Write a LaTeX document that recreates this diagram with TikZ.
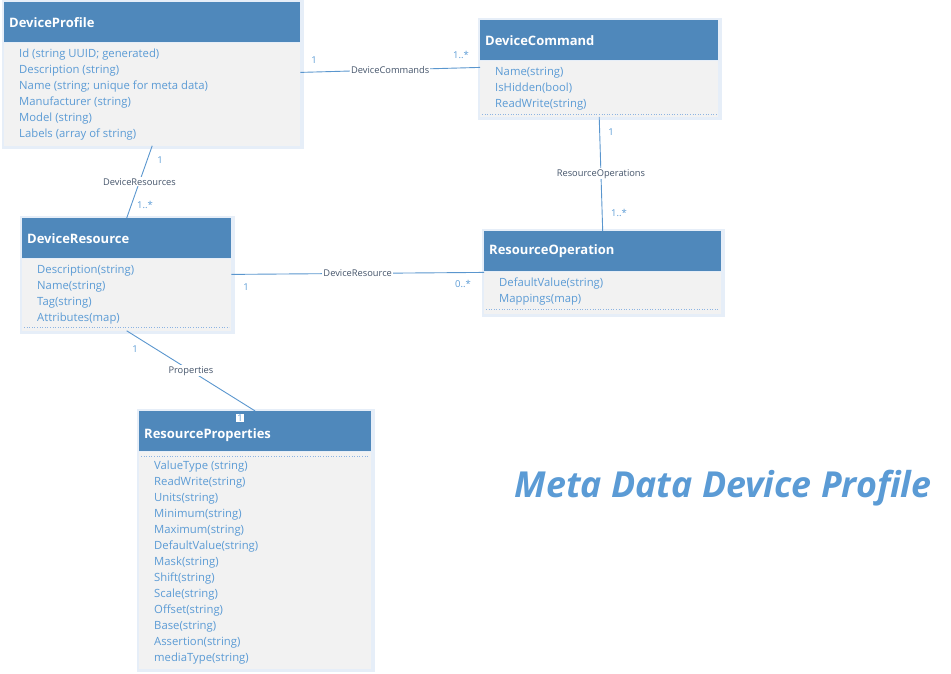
\documentclass[tikz,border=0pt]{standalone}
\usepackage{fontspec}
\setmainfont{Open Sans}
\usetikzlibrary{calc}
\definecolor{hdrblue}{HTML}{4F88BB}
\definecolor{bodygray}{HTML}{F2F2F2}
\definecolor{attrblue}{HTML}{5B9BD5}
\definecolor{lineblue}{HTML}{5A96CE}
\definecolor{labelcol}{HTML}{44546A}
\definecolor{shadowblue}{HTML}{E6EEF8}
\definecolor{dotblue}{HTML}{8DB4E2}
\begin{document}
\begin{tikzpicture}[x=1pt,y=-1pt,
  hdr/.style={fill=hdrblue, text=white, font=\fontsize{13}{15}\selectfont\bfseries, anchor=north west,
    minimum height=40pt, inner xsep=5pt, inner ysep=0pt, align=left},
  bodyb/.style={fill=bodygray, anchor=north west, inner sep=0pt},
  attr/.style={text=attrblue, font=\fontsize{11.3}{16}\selectfont, align=left, anchor=north west, inner sep=0pt},
  conn/.style={draw=lineblue, line width=0.9pt},
  clabel/.style={fill=white, text=labelcol, font=\fontsize{9.3}{10}\selectfont, inner sep=1pt},
  mult/.style={text=attrblue, font=\fontsize{9.5}{10}\selectfont, inner sep=0pt},
  dotline/.style={draw=dotblue, dotted, line width=0.6pt},
  shadowbox/.style={fill=shadowblue}
]
\useasboundingbox (0,0) rectangle (951,673);

% shadows
\fill[shadowbox] (2,0) rectangle (304,149);
\fill[shadowbox] (478,18) rectangle (722,120);
\fill[shadowbox] (20,216) rectangle (235,334);
\fill[shadowbox] (482,229) rectangle (725,317);
\fill[shadowbox] (137,409) rectangle (375,672);

% DeviceProfile
\node[hdr, text width=286pt] (dph) at (4,2) {DeviceProfile};
\node[bodyb, minimum width=296pt, minimum height=103pt] (dpb) at (dph.south west) {};
\node[attr] (dpa) at ($(dpb.north west)+(15,6.5)$) {Id (string UUID; generated)\\Description (string)\\Name (string; unique for meta data)\\Manufacturer (string)\\Model (string)\\Labels (array of string)};

% DeviceCommand
\node[hdr, text width=228pt] (dch) at (480,20) {DeviceCommand};
\node[bodyb, minimum width=238pt, minimum height=56pt] (dcb) at (dch.south west) {};
\node[attr] (dca) at ($(dcb.north west)+(15,6.5)$) {Name(string)\\IsHidden(bool)\\ReadWrite(string)};
\draw[dotline] ($(dcb.south west)+(2,-3)$) -- ($(dcb.south east)+(-2,-3)$);

% DeviceResource
\node[hdr, text width=199pt] (drh) at (22,218) {DeviceResource};
\node[bodyb, minimum width=209pt, minimum height=72pt] (drb) at (drh.south west) {};
\node[attr] (dra) at ($(drb.north west)+(15,6.5)$) {Description(string)\\Name(string)\\Tag(string)\\Attributes(map)};
\draw[dotline] ($(drb.south west)+(2,-4)$) -- ($(drb.south east)+(-2,-4)$);

% ResourceOperation
\node[hdr, text width=227pt] (roh) at (484,231) {ResourceOperation};
\node[bodyb, minimum width=237pt, minimum height=42pt] (rob) at (roh.south west) {};
\node[attr] (roa) at ($(rob.north west)+(15,6.5)$) {DefaultValue(string)\\Mappings(map)};
\draw[dotline] ($(rob.south west)+(2,-5)$) -- ($(rob.south east)+(-2,-5)$);

% ResourceProperties
\node[hdr, text width=222pt] (rph) at (139,411) {\raisebox{-7pt}[0pt][0pt]{ResourceProperties}};
\node[bodyb, minimum width=232pt, minimum height=217pt] (rpb) at (rph.south west) {};
\draw[dotline] ($(rpb.north west)+(2,5)$) -- ($(rpb.north east)+(-2,5)$);
\node[attr] (rpa) at ($(rpb.north west)+(15,9.5)$) {ValueType (string)\\ReadWrite(string)\\Units(string)\\Minimum(string)\\Maximum(string)\\DefaultValue(string)\\Mask(string)\\Shift(string)\\Scale(string)\\Offset(string)\\Base(string)\\Assertion(string)\\mediaType(string)};

% connectors
\draw[conn] ($(dpb.north east)+(0,30)$) -- node[clabel] (l1) {DeviceCommands} ($(dch.south west)+(0,7)$);
\draw[conn] (dpb.south) -- node[clabel] (l2) {DeviceResources} (drh.north);
\draw[conn] (dcb.south) -- node[clabel] (l3) {ResourceOperations} (roh.north);
\draw[conn] ($(drb.north east)+(0,16)$) -- node[clabel] (l4) {DeviceResource} ($(rob.north west)+(0,1)$);
\draw[conn] (drb.south) -- node[clabel] (l5) {Properties} (rph.north);

% multiplicities
\node[mult] (m1) at (314,60) {1};
\node[mult] (m2) at (461,55) {1..*};
\node[mult] (m3) at (160,160) {1};
\node[mult] (m4) at (145,205) {1..*};
\node[mult] (m5) at (611,132) {1};
\node[mult] (m6) at (619,213) {1..*};
\node[mult] (m7) at (246,287) {1};
\node[mult] (m8) at (463,284) {0..*};
\node[mult] (m9) at (135,349) {1};
\node[mult, fill=white, inner xsep=1pt, inner ysep=1pt] (m10) at (240,418) {1};

% title
\node[text=attrblue, font=\fontsize{35.8}{40}\selectfont\bfseries\itshape] (title) at (723,488) {Meta Data Device Profile};
\end{tikzpicture}
\end{document}
